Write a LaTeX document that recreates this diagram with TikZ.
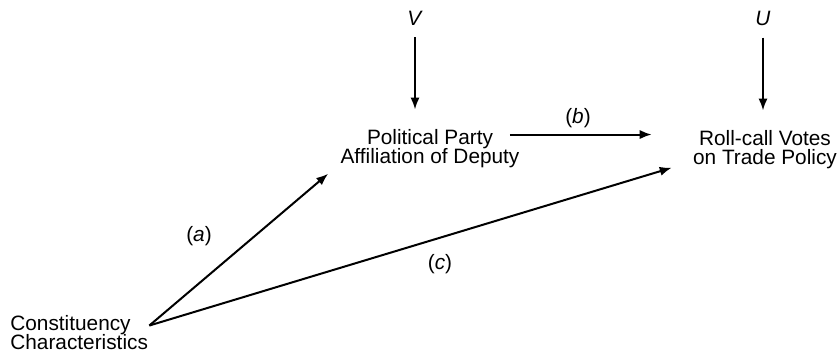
\documentclass[tikz,border=0pt]{standalone}
\usepackage{fontspec}
\setmainfont{Liberation Sans}
\usetikzlibrary{arrows.meta,positioning,calc}
\newcommand\diagfont{\fontsize{10.4}{9.5}\selectfont\lineskiplimit=-5pt\relax}

\begin{document}
\begin{tikzpicture}[
    x=0.5pt, y=-0.5pt,
    >={Latex[length=6pt,width=4.6pt]},
    every node/.style={font=\diagfont, inner sep=0pt},
    var/.style={align=center, anchor=base},
    err/.style={anchor=base},
    path/.style={font=\fontsize{10.4}{12}\selectfont},
    link/.style={->, line width=1pt},
    feed/.style={link, shorten <=6pt, shorten >=9.5pt},
]
\useasboundingbox (0,0) rectangle (840,354);

\node[var] (party) at (430,163) {Political Party\\Affiliation of Deputy};
\node[var] (roll) at (765,164) {Roll-call Votes\\on Trade Policy};
\node[var, align=left, anchor=base west] (cons) at (10,349) {Constituency\\Characteristics};

\node[err] (v) at (415,25) {\textit{V}};
\node[err] (u) at (763,25) {\textit{U}};

% disturbances
\draw[feed] (v.south) -- (v.south |- party.north);
\draw[feed] (u.south) -- (u.south |- roll.north);

% paths
\coordinate (src) at ($(cons.north east)+(1,11)$);
\coordinate (bstart) at ($(party.north east)+(-10,6)$);
\draw[link] (src) -- ($(party.south west)+(-12,6)$);
\draw[link] (bstart) -- ($(roll.west |- bstart)+(-41,0)$);
\draw[link] (src) -- ($(roll.south west)+(-21,-1)$);

\node[path] (a) at (199,236) {(\textit{a})};
\node[path] (b) at (578,118) {(\textit{b})};
\node[path] (c) at (440,264) {(\textit{c})};

\end{tikzpicture}
\end{document}
